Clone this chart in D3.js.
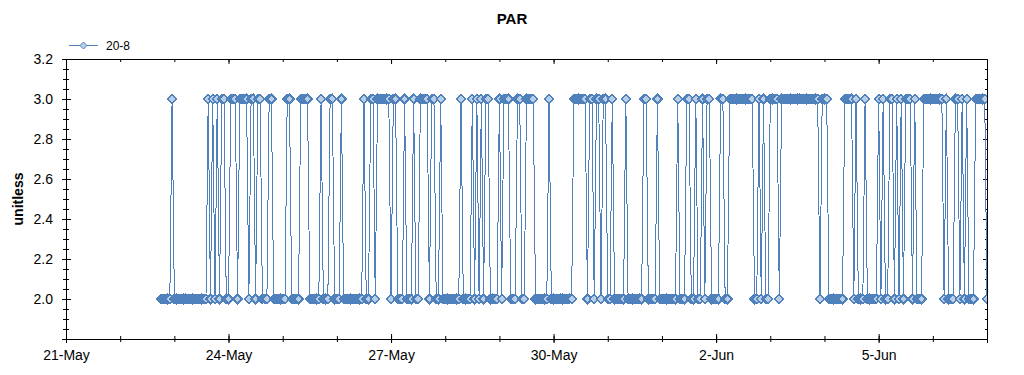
<!DOCTYPE html>
<html>
<head>
<meta charset="utf-8">
<script src="https://cdn.jsdelivr.net/npm/d3@7"></script>
<style>
  body { margin: 0; background: #fff; }
  svg text { font-family: "Liberation Sans", Arial, sans-serif; fill: #000; }
</style>
</head>
<body>
<div id="chart"></div>
<script>
var chartTitle = "PAR";
var seriesName = "20-8";
var yLabel = "unitless";

// hourly readings, one string per day (first one starts 22-May 18:00)
var seriesStart = "2013-05-22T18:00";
var hourlyByDay = [
  "222223",                   // 22-May
  "222222222222222323232332", // 23-May
  "233323333233233222332222", // 24-May
  "223322223333222223222332", // 25-May
  "223222222222322332333333", // 26-May
  "233222322232233332332232", // 27-May
  "222222232222323232332222", // 28-May
  "323332223322333322222232", // 29-May
  "222222222333333233233233", // 30-May
  "223222223222222233222232", // 31-May
  "222222232223322322323322", // 1-Jun
  "223322333333333332232322", // 2-Jun
  "333323333333333333333323", // 3-Jun
  "332222222333323222322222", // 4-Jun
  "323223323232333232223333", // 5-Jun
  "333332322233232322233333", // 6-Jun
  "2"                         // 7-Jun
];

var yTickValues = [2.0, 2.2, 2.4, 2.6, 2.8, 3.0, 3.2];
var xTickDates = ["2013-05-21", "2013-05-24", "2013-05-27", "2013-05-30", "2013-06-02", "2013-06-05"];
var xDomain = ["2013-05-21", "2013-06-07"];
var yDomain = [1.8, 3.2];

var lineColor = "#4f81bd";
var markerFill = "#b9cde5";

var width = 1024, height = 375;
var plot = { left: 66, right: 987, top: 59, bottom: 339 };

var parseDay = d3.timeParse("%Y-%m-%d");
var parseHour = d3.timeParse("%Y-%m-%dT%H:%M");
var t0 = parseHour(seriesStart);

var values = hourlyByDay.join("").split("").map(Number);
var data = values.map(function(v, i) {
  return { t: d3.timeHour.offset(t0, i), v: v };
});

var svg = d3.select("#chart").append("svg")
    .attr("width", width)
    .attr("height", height);

var x = d3.scaleTime()
    .domain(xDomain.map(parseDay))
    .range([plot.left, plot.right]);

var y = d3.scaleLinear()
    .domain(yDomain)
    .range([plot.bottom, plot.top]);

// minor ticks: every 0.05 on y, every day on x
var yMinor = d3.range(37).map(function(i) { return +(1.8 + i * 0.05).toFixed(2); })
    .filter(function(d) { return d <= 3.2 && yTickValues.indexOf(d) < 0 && d !== 1.8; });
var xMinor = d3.timeDay.range(x.domain()[0], x.domain()[1]);

// left axis
var gLeft = svg.append("g").attr("transform", "translate(" + plot.left + ",0)");
gLeft.call(d3.axisLeft(y).tickValues(yTickValues).tickSizeOuter(0).tickSize(4).tickPadding(9)
    .tickFormat(d3.format(".1f")));
gLeft.selectAll(".tick line").attr("x1", 5).attr("x2", -4);
gLeft.selectAll("text").style("font-size", "14px");
var gLeftMinor = svg.append("g").attr("transform", "translate(" + plot.left + ",0)");
gLeftMinor.call(d3.axisLeft(y).tickValues(yMinor).tickSizeOuter(0).tickSize(3).tickFormat(""));
gLeftMinor.selectAll(".tick line").attr("x1", 3);
gLeftMinor.select(".domain").remove();

// right axis (ticks inward)
var gRight = svg.append("g").attr("transform", "translate(" + plot.right + ",0)");
gRight.call(d3.axisRight(y).tickValues(yTickValues).tickSizeOuter(0).tickSize(-4).tickFormat(""));
var gRightMinor = svg.append("g").attr("transform", "translate(" + plot.right + ",0)");
gRightMinor.call(d3.axisRight(y).tickValues(yMinor).tickSizeOuter(0).tickSize(-2).tickFormat(""));
gRightMinor.select(".domain").remove();

// bottom axis
var gBottom = svg.append("g").attr("transform", "translate(0," + plot.bottom + ")");
gBottom.call(d3.axisBottom(x).tickValues(xTickDates.map(parseDay)).tickSizeOuter(0).tickSize(4)
    .tickPadding(7).tickFormat(d3.timeFormat("%-d-%b")));
gBottom.selectAll(".tick line").attr("y1", -5);
gBottom.selectAll("text").style("font-size", "14px");
var gBottomMinor = svg.append("g").attr("transform", "translate(0," + plot.bottom + ")");
gBottomMinor.call(d3.axisBottom(x).tickValues(xMinor).tickSizeOuter(0).tickSize(3).tickFormat(""));
gBottomMinor.selectAll(".tick line").attr("y1", -3);
gBottomMinor.select(".domain").remove();

// top axis (ticks inward)
var gTop = svg.append("g").attr("transform", "translate(0," + plot.top + ")");
gTop.call(d3.axisTop(x).tickValues(xMinor).tickSizeOuter(0).tickSize(-3).tickFormat(""));
var gTopMajor = svg.append("g").attr("transform", "translate(0," + plot.top + ")");
gTopMajor.call(d3.axisTop(x).tickValues(xTickDates.map(parseDay)).tickSizeOuter(0).tickSize(-5).tickFormat(""));
gTopMajor.select(".domain").remove();

// series
svg.append("clipPath").attr("id", "plot-clip")
  .append("rect")
    .attr("x", plot.left + 1).attr("y", plot.top)
    .attr("width", plot.right - plot.left - 1).attr("height", plot.bottom - plot.top);

var diamond = "M0,-4.5L4.5,0L0,4.5L-4.5,0Z";

var series = svg.append("g").attr("clip-path", "url(#plot-clip)");
series.append("path")
    .datum(data)
    .attr("fill", "none")
    .attr("stroke", lineColor)
    .attr("stroke-width", 1)
    .attr("shape-rendering", "crispEdges")
    .attr("d", d3.line()
      .x(function(d) { return x(d.t); })
      .y(function(d) { return y(d.v); }));

series.selectAll(".marker")
    .data(data)
    .enter().append("path")
    .attr("class", "marker")
    .attr("transform", function(d) { return "translate(" + x(d.t) + "," + y(d.v) + ")"; })
    .attr("d", diamond)
    .attr("fill", markerFill)
    .attr("stroke", lineColor)
    .attr("stroke-width", 1.6)
    .attr("shape-rendering", "crispEdges");

// title
svg.append("text")
    .attr("x", width / 2)
    .attr("y", 24)
    .attr("text-anchor", "middle")
    .style("font-size", "15px")
    .style("font-weight", "bold")
    .text(chartTitle);

// y label
svg.append("text")
    .attr("transform", "translate(23," + ((plot.top + plot.bottom) / 2) + ") rotate(-90)")
    .attr("text-anchor", "middle")
    .style("font-size", "14px")
    .style("font-weight", "bold")
    .text(yLabel);

// legend
var legend = svg.append("g").attr("transform", "translate(69,45)");
legend.append("line")
    .attr("x1", 0).attr("x2", 29)
    .attr("y1", 0.5).attr("y2", 0.5)
    .attr("stroke", lineColor);
legend.append("path")
    .attr("transform", "translate(14.5,0.5)")
    .attr("d", "M0,-3.5L3.5,0L0,3.5L-3.5,0Z")
    .attr("fill", markerFill)
    .attr("stroke", lineColor);
legend.append("text")
    .attr("x", 37)
    .attr("y", 4.5)
    .style("font-size", "12px")
    .text(seriesName);
</script>
</body>
</html>
